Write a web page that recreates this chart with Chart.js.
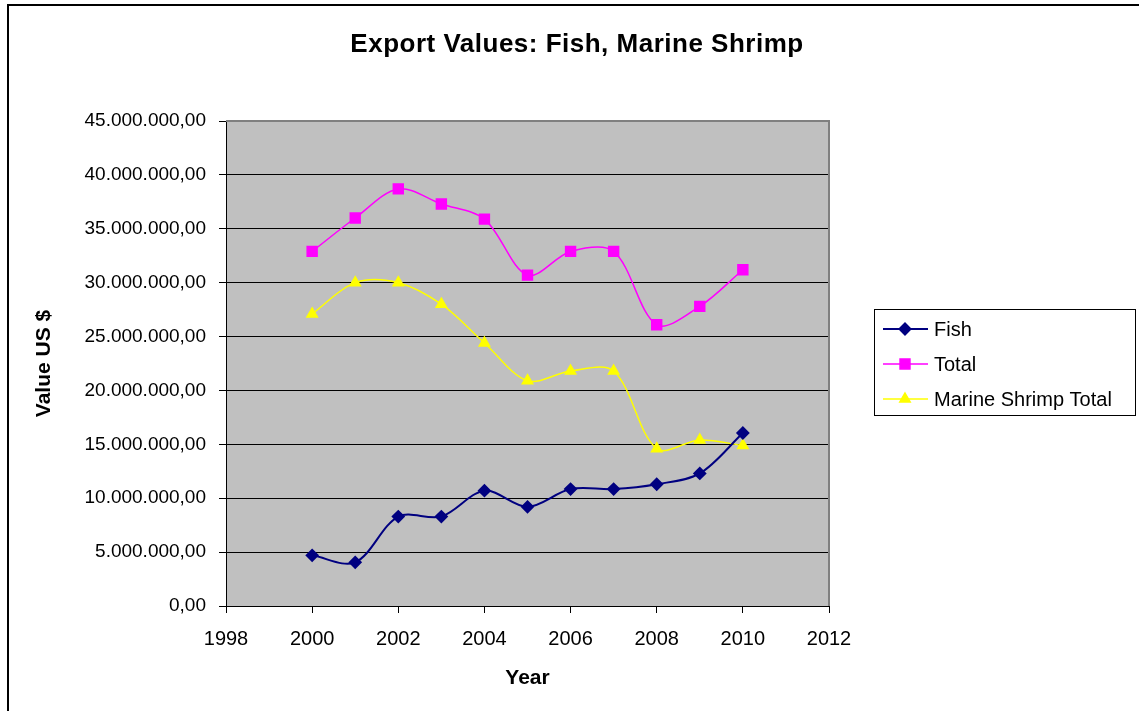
<!DOCTYPE html>
<html>
<head>
<meta charset="utf-8">
<title>Export Values: Fish, Marine Shrimp</title>
<script src="https://cdn.jsdelivr.net/npm/chart.js@4.4.1/dist/chart.umd.min.js"></script>
<style>
  html, body { margin: 0; padding: 0; background: #ffffff; }
  #wrap { width: 1139px; height: 711px; }
</style>
</head>
<body>
<div id="wrap"><canvas id="chart" width="1139" height="711"></canvas></div>
<script>
// Export values in US $ per year
const chartTitle = 'Export Values: Fish, Marine Shrimp';
const years = [2000, 2001, 2002, 2003, 2004, 2005, 2006, 2007, 2008, 2009, 2010];
const fishValues = [4700000, 4050000, 8300000, 8300000, 10700000, 9200000, 10850000, 10850000, 11300000, 12300000, 16050000];
const totalValues = [32900000, 36000000, 38700000, 37300000, 35900000, 30700000, 32900000, 32900000, 26100000, 27800000, 31200000];
const shrimpValues = [27100000, 30000000, 30000000, 28000000, 24400000, 20900000, 21800000, 21800000, 14600000, 15400000, 14900000];
const seriesNames = ['Fish', 'Total', 'Marine Shrimp Total'];
const xTickRange = [1998, 2012, 2];           // min, max, step
const yTickRange = [0, 45000000, 5000000];    // min, max, step

const FONT = '"Liberation Sans", Arial, sans-serif';

function toPoints(values) {
  return years.map((y, i) => ({ x: y, y: values[i] }));
}

// 45000000 -> "45.000.000,00"
function formatValue(v) {
  const intPart = Math.round(v).toString().replace(/\B(?=(\d{3})+(?!\d))/g, '.');
  return intPart + ',00';
}

// Grey plot area, its frame, the title, the legend and the outer frame
const decorations = {
  id: 'decorations',
  beforeDraw(chart) {
    const { ctx, chartArea: a } = chart;
    ctx.save();
    ctx.fillStyle = '#c0c0c0';
    ctx.fillRect(a.left, a.top, a.right - a.left, a.bottom - a.top);
    ctx.restore();
  },
  beforeDatasetsDraw(chart) {
    const { ctx, chartArea: a } = chart;
    ctx.save();
    ctx.strokeStyle = '#808080';
    ctx.lineWidth = 2;
    ctx.beginPath();
    ctx.moveTo(a.left, a.top);
    ctx.lineTo(a.right, a.top);
    ctx.lineTo(a.right, a.bottom);
    ctx.stroke();
    ctx.restore();
  },
  afterDraw(chart) {
    const { ctx } = chart;
    ctx.save();
    // outer frame
    ctx.strokeStyle = '#000000';
    ctx.lineWidth = 2;
    ctx.strokeRect(8, 5, 1300, 900);

    // title
    ctx.fillStyle = '#000000';
    ctx.font = 'bold 26px ' + FONT;
    if ('letterSpacing' in ctx) ctx.letterSpacing = '0.5px';
    ctx.textAlign = 'center';
    ctx.textBaseline = 'middle';
    ctx.fillText(chartTitle, 577, 45);
    if ('letterSpacing' in ctx) ctx.letterSpacing = '0px';

    // legend
    const box = { x: 874, y: 309, w: 261, h: 106 };
    ctx.fillStyle = '#ffffff';
    ctx.fillRect(box.x, box.y, box.w, box.h);
    ctx.strokeStyle = '#000000';
    ctx.lineWidth = 1;
    ctx.strokeRect(box.x + 0.5, box.y + 0.5, box.w, box.h);
    ctx.font = '20px ' + FONT;
    ctx.textAlign = 'left';
    chart.data.datasets.forEach((ds, i) => {
      const cy = 329 + i * 35;
      ctx.strokeStyle = ds.borderColor;
      ctx.lineWidth = ds.borderWidth;
      ctx.beginPath();
      ctx.moveTo(883, cy);
      ctx.lineTo(928, cy);
      ctx.stroke();
      ctx.fillStyle = ds.pointBackgroundColor;
      ctx.strokeStyle = ds.pointBorderColor;
      Chart.helpers.drawPoint(ctx, {
        pointStyle: ds.pointStyle,
        radius: ds.pointRadius,
        borderWidth: 1,
        rotation: 0
      }, 905, cy);
      ctx.fillStyle = '#000000';
      ctx.fillText(ds.label, 934, cy + 1);
    });
    ctx.restore();
  }
};

const datasets = [
  {
    label: seriesNames[0],
    data: toPoints(fishValues),
    borderColor: '#000080',
    backgroundColor: '#000080',
    pointBackgroundColor: '#000080',
    pointBorderColor: '#000080',
    borderWidth: 2,
    pointStyle: 'rectRot',
    pointRadius: 5.5
  },
  {
    label: seriesNames[1],
    data: toPoints(totalValues),
    borderColor: '#ff00ff',
    backgroundColor: '#ff00ff',
    pointBackgroundColor: '#ff00ff',
    pointBorderColor: '#ff00ff',
    borderWidth: 1.5,
    pointStyle: 'rect',
    pointRadius: 7
  },
  {
    label: seriesNames[2],
    data: toPoints(shrimpValues),
    borderColor: '#ffff00',
    backgroundColor: '#ffff00',
    pointBackgroundColor: '#ffff00',
    pointBorderColor: '#ffff00',
    borderWidth: 1.5,
    pointStyle: 'triangle',
    pointRadius: 6
  }
];

new Chart(document.getElementById('chart'), {
  type: 'line',
  data: { datasets },
  plugins: [decorations],
  options: {
    responsive: false,
    animation: false,
    devicePixelRatio: 1,
    layout: { padding: { left: 0, top: 121, right: 310, bottom: 0 } },
    elements: {
      line: { tension: 0.33, fill: false },
      point: { borderWidth: 1, hoverRadius: 6 }
    },
    plugins: {
      legend: { display: false },
      title: { display: false },
      tooltip: { enabled: false }
    },
    scales: {
      x: {
        type: 'linear',
        min: xTickRange[0],
        max: xTickRange[1],
        afterFit(scale) { scale.height = 105; },
        ticks: {
          stepSize: xTickRange[2],
          color: '#000000',
          font: { family: FONT, size: 20 },
          padding: 14,
          maxRotation: 0,
          callback: (v) => String(v)
        },
        grid: {
          drawOnChartArea: false,
          drawTicks: true,
          tickLength: 7,
          color: '#000000',
          lineWidth: 1
        },
        border: { display: true, color: '#000000', width: 1 },
        title: {
          display: true,
          text: 'Year',
          color: '#000000',
          font: { family: FONT, size: 21, weight: 'bold' },
          padding: { top: 0, bottom: 20 }
        }
      },
      y: {
        min: yTickRange[0],
        max: yTickRange[1],
        afterFit(scale) { scale.width = 226; },
        ticks: {
          stepSize: yTickRange[2],
          color: '#000000',
          font: { family: FONT, size: 19 },
          padding: 13,
          callback: (v) => formatValue(v)
        },
        grid: {
          drawTicks: true,
          tickLength: 7,
          color: '#000000',
          lineWidth: 1
        },
        border: { display: true, color: '#000000', width: 1 },
        title: {
          display: true,
          text: 'Value US $',
          color: '#000000',
          font: { family: FONT, size: 21, weight: 'bold' },
          padding: { top: 32, bottom: 0 }
        }
      }
    }
  }
});
</script>
</body>
</html>
